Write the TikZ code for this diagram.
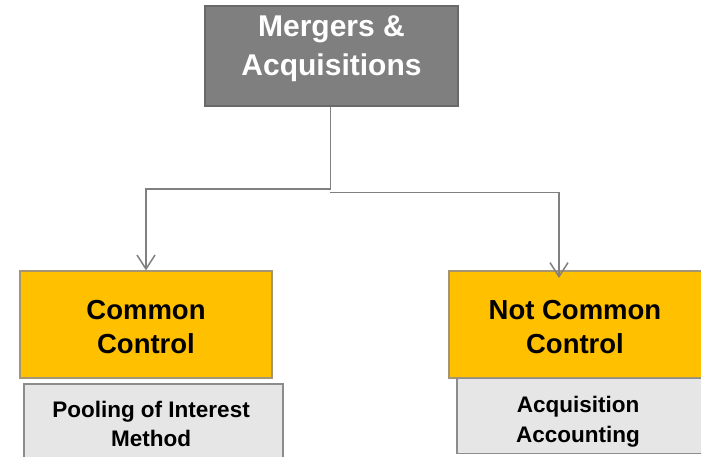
\documentclass[tikz,border=0pt]{standalone}
\usepackage{fontspec}
\setmainfont{Liberation Sans}
\usepackage{tikz}
\usetikzlibrary{arrows.meta}
\definecolor{magray}{RGB}{127,127,127}
\definecolor{maborder}{RGB}{105,105,105}
\definecolor{ctlgold}{RGB}{255,192,0}
\definecolor{ctlborder}{RGB}{165,150,115}
\definecolor{methgray}{RGB}{230,230,230}
\definecolor{methborder}{RGB}{140,140,140}
\definecolor{linkgray}{RGB}{128,128,128}

\begin{document}
\begin{tikzpicture}[x=1pt, y=-1pt,
    mabox/.style={draw=maborder, fill=magray, line width=1.2pt, inner sep=0pt},
    ctlbox/.style={draw=ctlborder, fill=ctlgold, line width=1.2pt, inner sep=0pt},
    methbox/.style={draw=methborder, fill=methgray, line width=1.5pt, inner sep=0pt},
    matext/.style={align=center, inner sep=0pt, text=white, font=\fontsize{30}{39}\selectfont\bfseries},
    ctltext/.style={align=center, inner sep=0pt, font=\fontsize{27.5}{34}\selectfont\bfseries},
    methtext/.style={align=center, inner sep=0pt, font=\fontsize{22.5}{29.5}\selectfont\bfseries},
    link/.style={draw=linkgray, line width=1.5pt, -{Straight Barb[length=14pt, width=18pt]}}]

\useasboundingbox (0,0) rectangle (701,457);
\clip (0,0) rectangle (701,457);

% =============================================================================
% MERGERS & ACQUISITIONS
% =============================================================================
\node[mabox, minimum width=253, minimum height=100] (ma) at (331.5,56) {};
\node[matext] (maT) at (331.5,49) {Mergers \&\\Acquisitions};

% =============================================================================
% COMMON CONTROL / NOT COMMON CONTROL
% =============================================================================
\node[ctlbox, minimum width=252, minimum height=107] (cc) at (146,324.5) {};
\node[ctltext] (ccT) at (146,327) {Common\\Control};

% box runs past the right edge
\node[ctlbox, minimum width=300, minimum height=107] (ncc) at (599,324.5) {};
\node[ctltext] (nccT) at (575,327) {Not Common\\Control};

% =============================================================================
% METHODS
% =============================================================================
\node[methbox, minimum width=259, minimum height=90] (pim) at (153.5,429) {};
\node[methtext] (pimT) at (151,424) {Pooling of Interest\\Method};

\node[methbox, minimum width=290, minimum height=75] (aa) at (602,416) {};
\node[methtext] (aaT) at (578,421.5) {Acquisition\\Accounting};

% =============================================================================
% CONNECTORS
% =============================================================================
\coordinate (splitL) at (330.5,189);
\coordinate (splitR) at (329.5,192.5);
\coordinate (nccIn) at (559,278);

\draw[link] (ma.south -| splitL) -- (splitL) -| (cc.north);
\draw[link] (splitR) -| (nccIn);

\end{tikzpicture}
\end{document}
